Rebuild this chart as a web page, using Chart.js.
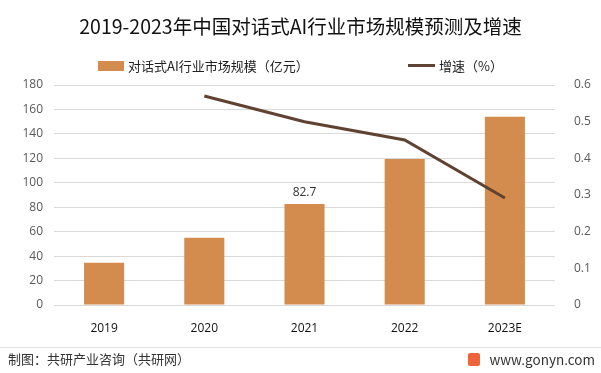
<!DOCTYPE html>
<html>
<head>
<meta charset="utf-8">
<script src="https://cdn.jsdelivr.net/npm/chart.js@4"></script>
<style>
  html, body { margin: 0; padding: 0; background: #fff; }
  #wrap { position: relative; width: 601px; height: 373px; font-family: "Noto Sans CJK SC", "Noto Sans", sans-serif; }
  #title { position: absolute; left: 0; width: 601px; top: 11px; text-align: center; font-size: 19.5px; color: #111; }
  .leg { position: absolute; top: 56px; font-size: 13px; color: #222; display: flex; align-items: center; }
  .leg i { display: inline-block; margin-right: 4px; }
  #foot-line { position: absolute; left: 0; width: 601px; top: 347px; height: 1px; background: #e3e3e3; }
  #foot-l { position: absolute; left: 8px; top: 349px; font-size: 13px; color: #333; }
  #foot-r { position: absolute; right: 6px; top: 349px; font-size: 13.5px; color: #333; display: flex; align-items: center; }
  #foot-r b { display: inline-block; width: 12px; height: 13px; background: #f0643c; margin-right: 9px; border-radius: 2px; }
  canvas { position: absolute; left: 0; top: 0; }
</style>
</head>
<body>
<div id="wrap">
  <canvas id="c" width="601" height="373"></canvas>
  <div id="title">2019-2023年中国对话式AI行业市场规模预测及增速</div>
  <div class="leg" id="leg1" style="left:98px"></div>
  <div class="leg" id="leg2" style="left:408px"></div>
  <div id="foot-line"></div>
  <div id="foot-l">制图：共研产业咨询（共研网）</div>
  <div id="foot-r"><b></b>www.gonyn.com</div>
</div>
<script>
const years = ['2019', '2020', '2021', '2022', '2023E'];
const marketSize = [34.5, 55, 82.7, 119.5, 154];
const growth = [null, 0.57, 0.5, 0.45, 0.292];
const labelIndex = [2];
const leftTicks = [0, 20, 40, 60, 80, 100, 120, 140, 160, 180];
const rightTicks = [0, 0.1, 0.2, 0.3, 0.4, 0.5, 0.6];

const barColor = '#d48c4e';
const lineColor = '#5f4231';
const sizeLabel = '对话式AI行业市场规模（亿元）';
const growthLabel = '增速（%）';

document.getElementById('leg1').innerHTML =
  '<i style="width:26px;height:10px;background:' + barColor + '"></i>' + sizeLabel;
document.getElementById('leg2').innerHTML =
  '<i style="width:27px;height:3px;background:' + lineColor + '"></i>' + growthLabel;

// number above the bar(s) listed in labelIndex
const valueLabels = {
  id: 'valueLabels',
  afterDatasetsDraw(chart) {
    const ctx = chart.ctx;
    const meta = chart.getDatasetMeta(1);
    ctx.save();
    ctx.font = '12px "Open Sans", "Noto Sans", sans-serif';
    ctx.fillStyle = '#333';
    ctx.textAlign = 'center';
    ctx.textBaseline = 'bottom';
    labelIndex.forEach(i => {
      const bar = meta.data[i];
      ctx.fillText(String(marketSize[i]), bar.x, bar.y - 5);
    });
    ctx.restore();
  }
};

new Chart(document.getElementById('c'), {
  data: {
    labels: years,
    datasets: [
      {
        type: 'line',
        label: growthLabel,
        data: growth,
        yAxisID: 'y1',
        borderColor: lineColor,
        borderWidth: 3,
        pointRadius: 0,
        tension: 0,
        order: 0
      },
      {
        type: 'bar',
        label: sizeLabel,
        data: marketSize,
        yAxisID: 'y',
        backgroundColor: barColor,
        barPercentage: 0.8,
        categoryPercentage: 0.5,
        order: 1
      }
    ]
  },
  options: {
    responsive: false,
    animation: false,
    layout: { padding: { top: 85, left: 0, right: 0, bottom: 0 } },
    plugins: { legend: { display: false }, tooltip: { enabled: false } },
    scales: {
      x: {
        grid: { display: false },
        border: { display: false },
        ticks: { color: '#111', font: { size: 12, family: '"Open Sans", "Noto Sans", sans-serif' }, padding: 8 },
        afterFit(s) { s.height = 68; }
      },
      y: {
        position: 'left',
        min: 0,
        max: 180,
        afterBuildTicks(s) { s.ticks = leftTicks.map(v => ({ value: v })); },
        grid: { color: '#d9d9d9', drawTicks: false },
        border: { display: false },
        ticks: { color: '#595959', font: { size: 12, family: '"Open Sans", "Noto Sans", sans-serif' }, padding: 11 },
        afterFit(s) { s.width = 54; }
      },
      y1: {
        position: 'right',
        min: 0,
        max: 0.6,
        afterBuildTicks(s) { s.ticks = rightTicks.map(v => ({ value: v })); },
        grid: { display: false },
        border: { display: false },
        ticks: { color: '#595959', font: { size: 12, family: '"Open Sans", "Noto Sans", sans-serif' }, padding: 11 },
        afterFit(s) { s.width = 46; }
      }
    }
  },
  plugins: [valueLabels]
});
</script>
</body>
</html>
